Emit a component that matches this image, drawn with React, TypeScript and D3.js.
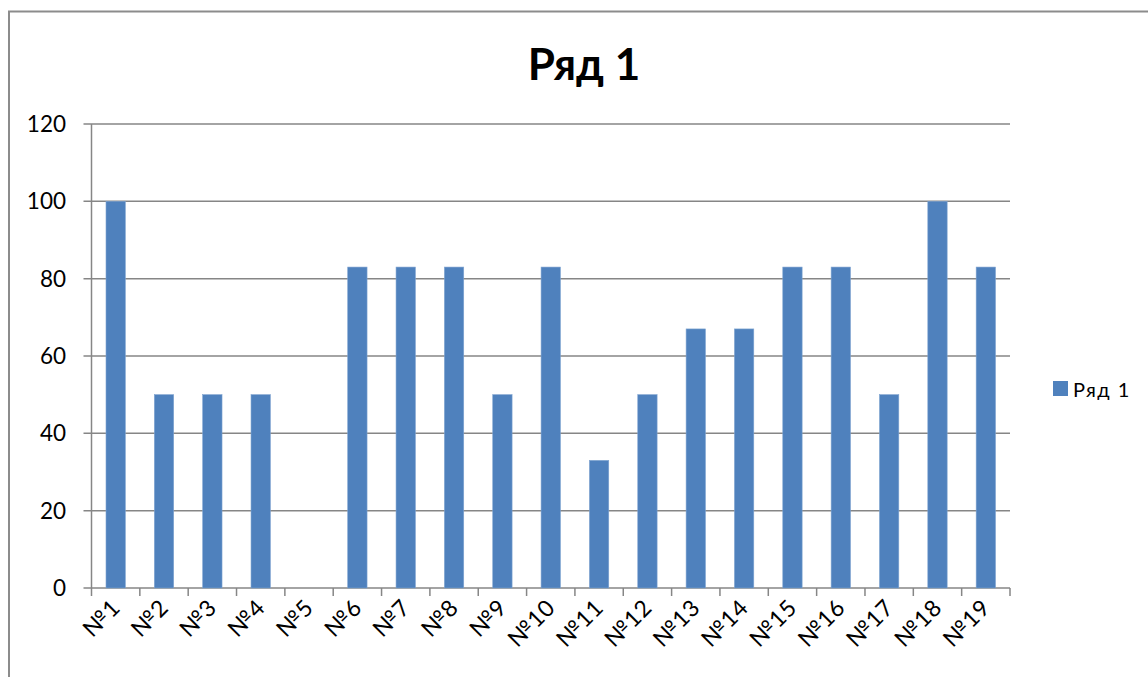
import React from "react";
import * as d3 from "d3";

const categories = ["№1","№2","№3","№4","№5","№6","№7","№8","№9","№10","№11","№12","№13","№14","№15","№16","№17","№18","№19"];
const values = [100, 50, 50, 50, 0, 83, 83, 83, 50, 83, 33, 50, 67, 67, 83, 83, 50, 100, 83];
const yTicks = [0, 20, 40, 60, 80, 100, 120];
const seriesName = "Ряд 1";
const title = "Ряд 1";

const W = 1148, H = 677;
const FONT = "Lato, 'Open Sans', sans-serif";

export default function App() {
  const x0 = 91.5, x1 = 1010, yTop = 124, yBot = 588;
  const x = d3.scaleBand<string>().domain(categories).range([x0, x1]).paddingInner(0).paddingOuter(0);
  const y = d3.scaleLinear().domain([0, 120]).range([yBot, yTop]);
  const bw = x.bandwidth() / 2.5;
  const grid = "#868686";
  return (
    <svg width={W} height={H} style={{ position: "absolute", left: 0, top: 0, background: "#fff" }} fontFamily={FONT}>
      <rect x={9} y={11.5} width={W + 10} height={H + 10} fill="#fff" stroke="#8c8c8c" strokeWidth={2} />
      <text x={584} y={80} textAnchor="middle" fontSize={44} fontWeight="bold" fill="#000">{title}</text>
      {yTicks.map(t => (
        <g key={t}>
          <line x1={x0 - 8} x2={x1} y1={y(t)} y2={y(t)} stroke={grid} strokeWidth={1.5} />
          <text x={66} y={y(t) + 8} textAnchor="end" fontSize={22.5} fill="#000">{t}</text>
        </g>
      ))}
      <line x1={x0} x2={x0} y1={yTop} y2={yBot} stroke={grid} strokeWidth={1.5} />
      {categories.map((c) => (
        <line key={"t" + c} x1={x(c)!} x2={x(c)!} y1={yBot} y2={yBot + 8} stroke={grid} strokeWidth={1.5} />
      ))}
      <line x1={x1} x2={x1} y1={yBot} y2={yBot + 8} stroke={grid} strokeWidth={1.5} />
      {categories.map((c, i) => {
        const cx = x(c)! + x.bandwidth() / 2;
        return (
          <rect key={"b" + c} x={cx - bw / 2} y={y(values[i])} width={bw} height={yBot - y(values[i])}
            fill="#4F81BD" stroke="#7ea3d0" strokeWidth={0.6} />
        );
      })}
      {categories.map((c) => {
        const cx = x(c)! + x.bandwidth() / 2 + 6;
        return (
          <text key={"l" + c} x={cx} y={609} textAnchor="end" fontSize={23} letterSpacing={0.8} fill="#000"
            transform={`rotate(-45, ${cx}, 609)`}>{c}</text>
        );
      })}
      <rect x={1053} y={381} width={15} height={15} fill="#4F81BD" />
      <text x={1073} y={397} fontSize={20} letterSpacing={1.5} fill="#000">{seriesName}</text>
    </svg>
  );
}
